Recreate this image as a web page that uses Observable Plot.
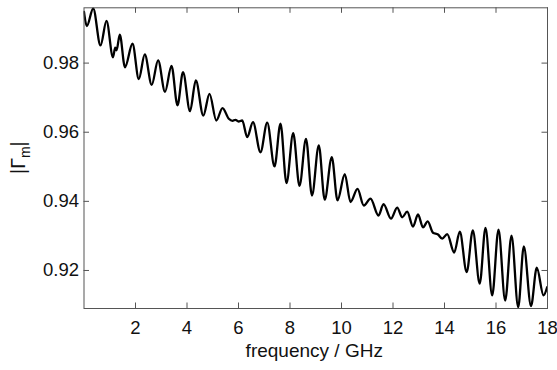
<!DOCTYPE html>
<html>
<head>
<meta charset="utf-8">
<script src="https://cdn.jsdelivr.net/npm/d3@7"></script>
<script src="https://cdn.jsdelivr.net/npm/@observablehq/plot@0.6"></script>
<style>
  html, body { margin: 0; padding: 0; background: white; }
</style>
</head>
<body>
<div id="chart"></div>
<script>
const freq = [0.000, 0.109, 0.357, 0.641, 0.874, 1.126, 1.212, 1.262, 1.390, 1.592,
  1.883, 2.128, 2.361, 2.629, 2.878, 3.146, 3.398, 3.631, 3.845, 4.117,
  4.342, 4.633, 4.874, 5.138, 5.379, 5.623, 5.767, 5.883, 6.000, 6.144,
  6.338, 6.563, 6.854, 7.115, 7.398, 7.631, 7.864, 8.124, 8.369, 8.621,
  8.854, 9.118, 9.348, 9.623, 9.845, 10.128, 10.350, 10.621, 10.866, 11.126,
  11.437, 11.631, 11.922, 12.163, 12.357, 12.551, 12.777, 12.971, 13.165, 13.348,
  13.553, 13.748, 13.911, 14.105, 14.377, 14.594, 14.862, 15.099, 15.367, 15.592,
  15.852, 16.097, 16.357, 16.602, 16.862, 17.080, 17.359, 17.584, 17.845, 17.988];
const gamma = [0.9948, 0.9907, 0.9958, 0.9851, 0.9922, 0.9817, 0.9845, 0.9837, 0.9882, 0.9788,
  0.9856, 0.9754, 0.9825, 0.9737, 0.9808, 0.9717, 0.9792, 0.9678, 0.9774, 0.9661,
  0.9750, 0.9648, 0.9711, 0.9634, 0.9670, 0.9639, 0.9633, 0.9636, 0.9631, 0.9634,
  0.9586, 0.9629, 0.9542, 0.9628, 0.9501, 0.9625, 0.9453, 0.9597, 0.9445, 0.9581,
  0.9417, 0.9562, 0.9405, 0.9528, 0.9403, 0.9479, 0.9398, 0.9436, 0.9388, 0.9408,
  0.9359, 0.9392, 0.9350, 0.9382, 0.9354, 0.9370, 0.9327, 0.9362, 0.9325, 0.9342,
  0.9309, 0.9304, 0.9292, 0.9305, 0.9252, 0.9312, 0.9195, 0.9316, 0.9162, 0.9323,
  0.9128, 0.9318, 0.9113, 0.9301, 0.9094, 0.9270, 0.9097, 0.9208, 0.9128, 0.9152];
const xTicks = [2, 4, 6, 8, 10, 12, 14, 16, 18];
const yTicks = [0.92, 0.94, 0.96, 0.98];
const xLabel = "frequency / GHz";

const data = freq.map((f, i) => ({f, v: gamma[i]}));

const W = 557, H = 370;
const mL = 83.5, mR = 10, mT = 7.3, mB = 62;
const pw = W - mL - mR, ph = H - mT - mB;
const tl = 5.5;
const axisColor = "#555";

const chart = Plot.plot({
  width: W, height: H,
  marginLeft: mL, marginRight: mR, marginTop: mT, marginBottom: mB,
  x: {domain: [0, 18]},
  y: {domain: [0.909, 0.996]},
  style: {fontFamily: "'Liberation Sans', Arial, sans-serif", fontSize: "18.5px", color: "#111", background: "white"},
  marks: [
    Plot.line(data, {x: "f", y: "v", stroke: "black", strokeWidth: 2.3, curve: "monotone-x", clip: true}),
    Plot.tickX(xTicks, {x: d => d, insetTop: ph - tl, stroke: axisColor}),
    Plot.tickX(xTicks, {x: d => d, insetBottom: ph - tl, stroke: axisColor}),
    Plot.tickY(yTicks, {y: d => d, insetRight: pw - tl, stroke: axisColor}),
    Plot.tickY(yTicks, {y: d => d, insetLeft: pw - tl, stroke: axisColor}),
    Plot.frame({stroke: axisColor, strokeWidth: 1}),
    Plot.axisX({ticks: xTicks, tickSize: 0, tickPadding: 12.5, label: null}),
    Plot.axisY({ticks: yTicks, tickSize: 0, tickPadding: 5, label: null, tickFormat: d3.format(".2f")})
  ]
});

document.getElementById("chart").appendChild(chart);

const svg = d3.select(chart);
svg.append("text")
  .attr("x", mL + pw / 2 - 1)
  .attr("y", 357)
  .attr("text-anchor", "middle")
  .attr("fill", "#111")
  .attr("font-size", 19)
  .text(xLabel);

const yl = svg.append("text")
  .attr("transform", `translate(25,${mT + ph / 2}) rotate(-90)`)
  .attr("text-anchor", "middle")
  .attr("fill", "#111")
  .attr("font-size", 19.5);
yl.append("tspan").text("|Γ");
yl.append("tspan").attr("font-size", 14).attr("dy", 5).text("m");
yl.append("tspan").attr("dy", -5).text("|");
</script>
</body>
</html>
